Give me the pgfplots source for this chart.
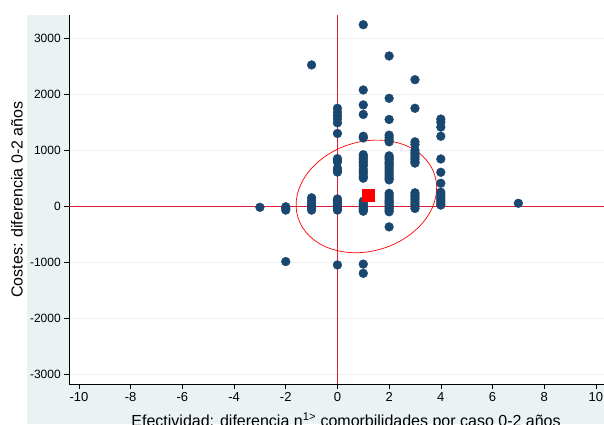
\documentclass[border=0pt]{standalone}
\usepackage{fontspec}
\setmainfont{Liberation Sans}
\usepackage{pgfplots}
\pgfplotsset{compat=1.18}
\definecolor{bg}{RGB}{234,242,243}
\definecolor{navy}{RGB}{26,71,111}
\definecolor{refred}{RGB}{222,30,55}
\begin{document}
\begin{tikzpicture}
\useasboundingbox (0pt,0pt) rectangle (604pt,-424pt);
\clip (0pt,0pt) rectangle (604pt,-424pt);
\fill[bg] (27pt,-15pt) rectangle (604pt,-424pt);
\fill[white] (69.3pt,-15pt) rectangle (604pt,-384pt);
\begin{axis}[
  at={(69.3pt,-384pt)}, anchor=south west,
  scale only axis, width=539.5pt, height=369pt,
  xmin=-10.375, xmax=10.5, ymin=-3178, ymax=3417,
  axis x line*=bottom, axis y line*=left,
  axis line style={black, line width=0.7pt, -},
  xtick={-10,-8,...,10}, xticklabels={-10,-8,-6,-4,-2,0,2,4,6,8,10},
  ytick={-3000,-2000,...,3000}, yticklabels={-3000,-2000,-1000,0,1000,2000,3000},
  tick align=outside, major tick length=5pt,
  tick style={black, line width=0.6pt},
  ymajorgrids, grid style={bg, line width=0.8pt},
  yticklabel style={font=\fontsize{12}{14}\selectfont},
  xticklabel style={font=\fontsize{13}{15}\selectfont},
  xlabel={Efectividad: diferencia n\textsuperscript{1>} comorbilidades por caso 0-2 años},
  ylabel={Costes: diferencia 0-2 años},
  label style={font=\fontsize{16}{19}\selectfont},
  xlabel style={at={(axis description cs:0.513,-0.0765)}, anchor=north, inner sep=0pt},
  ylabel style={at={(axis description cs:-0.097,0.5)}, anchor=center, inner sep=0pt},
]
\addplot[refred, line width=0.9pt] coordinates {(0,-3178) (0,3417)};
\addplot[refred, line width=0.9pt] coordinates {(-10.375,0) (10.5,0)};
\draw[red, line width=0.7pt, rotate around={17.2:(axis cs:1.12,175)}] (axis cs:1.12,175) ellipse [x radius=71.6pt, y radius=54.6pt];
\addplot[only marks, mark=*, mark size=4.4pt, color=navy, mark options={fill=navy, draw=navy}] table {
x y
-3 -20
-2 -10
-2 -40
-2 -70
-2 -990
-1 2525
-1 150
-1 100
-1 50
-1 10
-1 -30
-1 -70
0 1750
0 1680
0 1620
0 1560
0 1490
0 1300
0 850
0 820
0 790
0 680
0 640
0 610
0 130
0 100
0 70
0 40
0 10
0 -20
0 -50
0 -70
0 -1050
1 3244
1 2077
1 1810
1 1640
1 1250
1 1220
1 920
1 880
1 840
1 800
1 760
1 720
1 660
1 620
1 580
1 530
1 500
1 90
1 50
1 20
1 -10
1 -40
1 -70
1 -90
1 -1035
1 -1200
2 2685
2 1928
2 1550
2 1270
2 1230
2 1190
2 1150
2 900
2 870
2 840
2 800
2 770
2 740
2 700
2 660
2 620
2 580
2 540
2 500
2 470
2 230
2 190
2 150
2 110
2 80
2 50
2 20
2 -10
2 -40
2 -70
2 -100
2 -370
3 2261
3 1750
3 1150
3 1100
3 1000
3 960
3 920
3 880
3 840
3 800
3 770
3 240
3 200
3 160
3 120
3 80
3 40
3 0
3 -40
4 1557
4 1500
4 1414
4 1250
4 844
4 606
4 410
4 250
4 210
4 170
4 130
4 90
4 50
4 20
7 52
};
\addplot[only marks, mark=square*, mark size=5.8pt, color=red, mark options={fill=red, draw=red}] coordinates {(1.18,200)};
\end{axis}
\end{tikzpicture}
\end{document}
